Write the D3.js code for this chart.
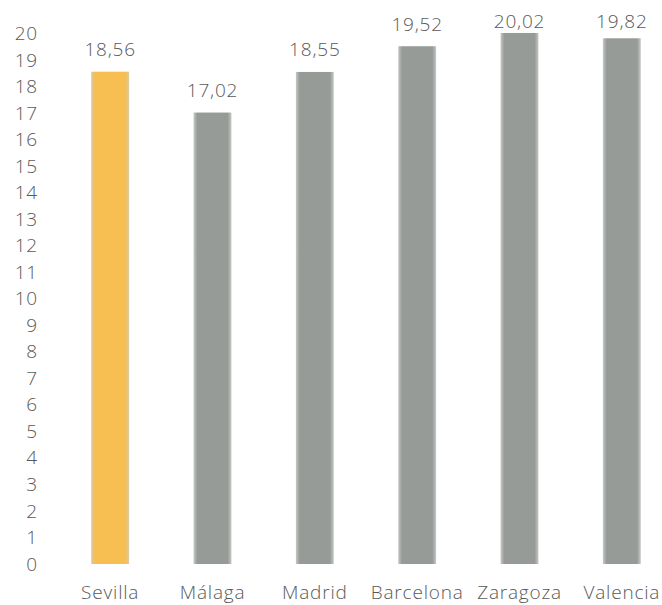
<!DOCTYPE html>
<html>
<head>
<meta charset="utf-8">
<script src="https://cdn.jsdelivr.net/npm/d3@7"></script>
<style>
  body { margin: 0; background: #fff; }
  text { font-family: 'Open Sans', Lato, sans-serif; font-weight: 300; fill: #595959; letter-spacing: 0.8px; }
</style>
</head>
<body>
<div id="chart"></div>
<script>
// Data
var cities = ['Sevilla', 'Málaga', 'Madrid', 'Barcelona', 'Zaragoza', 'Valencia'];
var values = [18.56, 17.02, 18.55, 19.52, 20.02, 19.82];
var yTicks = d3.range(0, 21);

var width = 662, height = 605;

var svg = d3.select('#chart').append('svg')
    .attr('width', width)
    .attr('height', height);

// Scales
var x = d3.scaleBand().domain(cities).range([59, 673]).paddingInner(0.63).paddingOuter(0.315);
var y = d3.scaleLinear().domain([0, 20]).range([564, 33.5]);

// Bar gradients (slightly lighter at the edges)
var defs = svg.append('defs');
function edgeGradient(id, edge, mid) {
    var g = defs.append('linearGradient').attr('id', id).attr('x1', 0).attr('x2', 1).attr('y1', 0).attr('y2', 0);
    g.append('stop').attr('offset', '0%').attr('stop-color', edge);
    g.append('stop').attr('offset', '10%').attr('stop-color', mid);
    g.append('stop').attr('offset', '90%').attr('stop-color', mid);
    g.append('stop').attr('offset', '100%').attr('stop-color', edge);
}
edgeGradient('gGray', '#c5c8c5', '#979b97');
edgeGradient('gOrange', '#d9c9a8', '#f7be52');

svg.selectAll('rect.bar')
    .data(values)
    .enter().append('rect')
    .attr('class', 'bar')
    .attr('x', function(d, i) { return x(cities[i]); })
    .attr('y', function(d) { return y(d); })
    .attr('width', x.bandwidth())
    .attr('height', function(d) { return y(0) - y(d); })
    .attr('fill', function(d, i) { return i === 0 ? 'url(#gOrange)' : 'url(#gGray)'; });

// Value labels (kept inside the top of the chart, like Excel does)
svg.selectAll('text.val')
    .data(values)
    .enter().append('text')
    .attr('class', 'val')
    .attr('x', function(d, i) { return x(cities[i]) + x.bandwidth() / 2; })
    .attr('y', function(d) { return Math.max(27.5, y(d) - 15.5); })
    .attr('text-anchor', 'middle')
    .style('font-size', '19px')
    .text(function(d) { return d.toFixed(2).replace('.', ','); });

// Y axis labels (no line)
var yAxis = d3.axisLeft(y).tickValues(yTicks).tickSize(0).tickPadding(0);
var gy = svg.append('g').attr('transform', 'translate(38,0)').call(yAxis);
gy.select('.domain').remove();
gy.selectAll('text').style('font-size', '19px').style('font-family', null).attr('fill', null);

// X axis labels
var xAxis = d3.axisBottom(x).tickSize(0).tickPadding(0);
var gx = svg.append('g').attr('transform', 'translate(0,583)').call(xAxis);
gx.select('.domain').remove();
gx.selectAll('text').style('font-size', '19px').style('font-family', null).attr('fill', null).attr('dy', '0.85em');
</script>
</body>
</html>
